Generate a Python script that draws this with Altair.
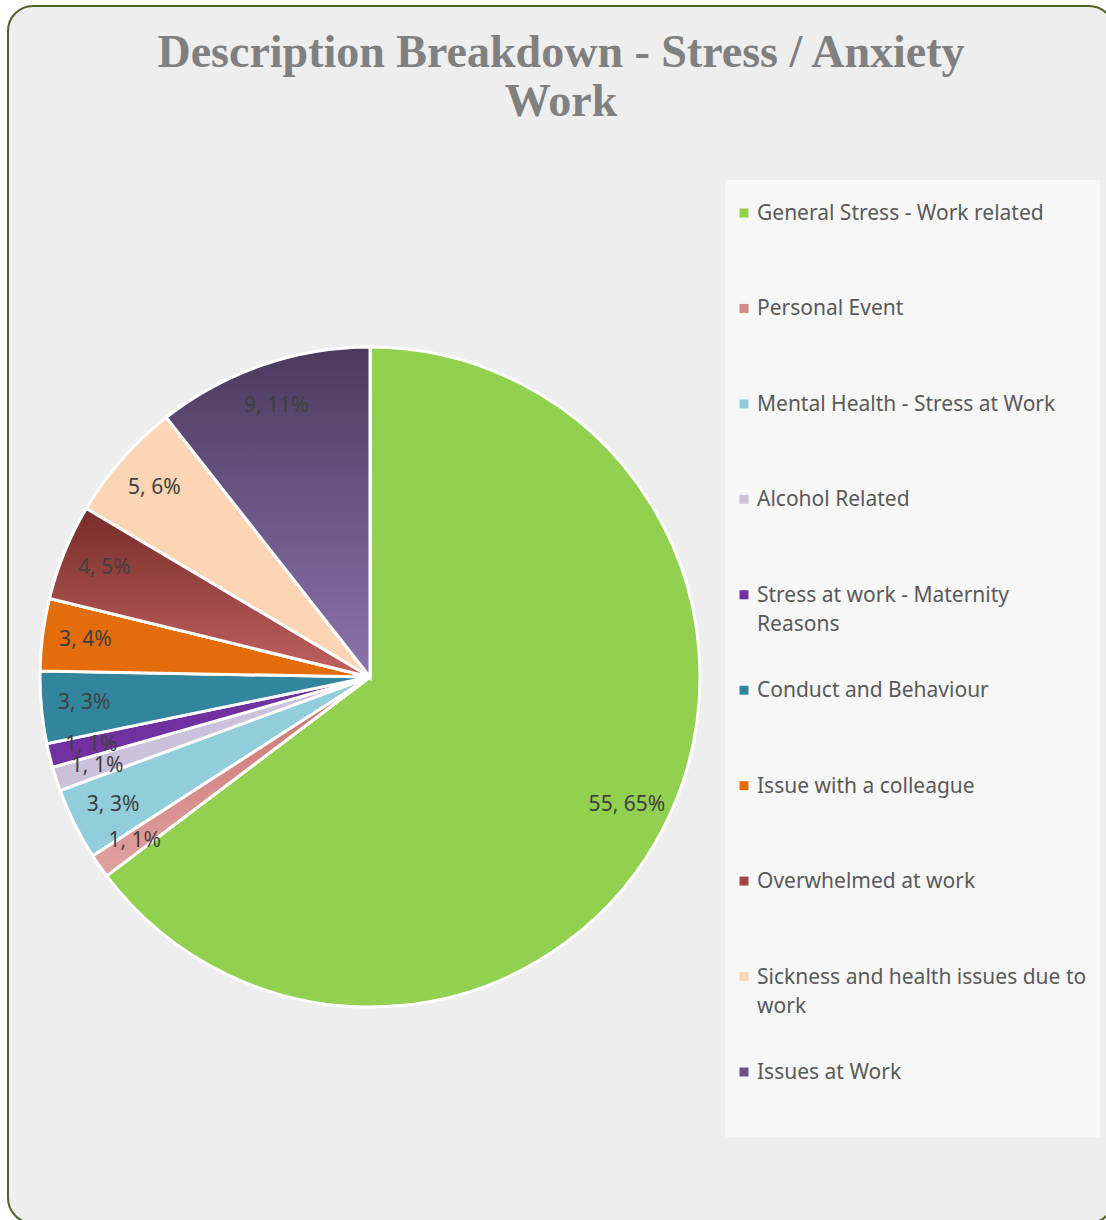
import math
import altair as alt
import pandas as pd

# ---- data ----
categories = [
    "General Stress - Work related",
    "Personal Event",
    "Mental Health - Stress at Work",
    "Alcohol Related",
    "Stress at work - Maternity Reasons",
    "Conduct and Behaviour",
    "Issue with a colleague",
    "Overwhelmed at work",
    "Sickness and health issues due to work",
    "Issues at Work",
]
counts = [55, 1, 3, 1, 1, 3, 3, 4, 5, 9]
percents = [65, 1, 3, 1, 1, 3, 4, 5, 6, 11]
legend_labels = [
    "General Stress - Work related",
    "Personal Event",
    "Mental Health - Stress at Work",
    "Alcohol Related",
    "Stress at work - Maternity\nReasons",
    "Conduct and Behaviour",
    "Issue with a colleague",
    "Overwhelmed at work",
    "Sickness and health issues due to\nwork",
    "Issues at Work",
]
title_text = "Description Breakdown - Stress / Anxiety\nWork"

# ---- styles ----
palette = ["#92d050", "#d48886", "#92cddc", "#ccc1da", "#7030a0",
           "#31859c", "#e46c0a", "#a04543", "#fcd5b5", "#6a5589"]
gradients = {
    "Personal Event": ("#c9706e", "#e0a3a1"),
    "Overwhelmed at work": ("#772c2a", "#c0625f"),
    "Issues at Work": ("#4a3a5e", "#8b74ad"),
}

CX, CY, R = 370, 677, 330
LABEL_R = 287
FONT = "Noto Sans"

df = pd.DataFrame({
    "cat": categories,
    "count": counts,
    "pct": percents,
    "order": list(range(len(categories))),
    "legend": legend_labels,
})
total = sum(counts)

base = alt.Chart(df).transform_window(
    cum="sum(count)", sort=[alt.SortField("order")], frame=[None, 0]
).transform_calculate(
    start="datum.cum - datum.count",
    mid="datum.cum - datum.count / 2",
    label="datum.count + ', ' + datum.pct + '%'",
)

theta_scale = alt.Scale(domain=[0, total], range=[0, 2 * math.pi])
color_scale = alt.Scale(domain=categories, range=palette)

one = pd.DataFrame({"k": [0]})

background = alt.Chart(one).mark_rect(
    fill="#eeeeee", stroke="#4f6228", strokeWidth=2, cornerRadius=25
).encode(x=alt.value(8), x2=alt.value(1114), y=alt.value(6), y2=alt.value(1223))

legend_box = alt.Chart(one).mark_rect(fill="#ffffff", opacity=0.5).encode(
    x=alt.value(725), x2=alt.value(1100), y=alt.value(180), y2=alt.value(1137)
)

title = alt.Chart(pd.DataFrame({"t": [title_text]})).mark_text(
    font="Liberation Serif", fontWeight="bold", fontSize=46, color="#808080",
    align="center", baseline="alphabetic", lineBreak="\n", lineHeight=49,
).encode(text="t:N", x=alt.value(561), y=alt.value(67))

pie = base.mark_arc(outerRadius=R, stroke="white", strokeWidth=3).encode(
    theta=alt.Theta("start:Q", scale=theta_scale, stack=None),
    theta2="cum:Q",
    color=alt.Color("cat:N", scale=color_scale, legend=None),
    x=alt.value(CX), y=alt.value(CY),
)

grad_layers = []
for cat, (c0, c1) in gradients.items():
    g = alt.LinearGradient(
        gradient="linear",
        stops=[alt.GradientStop(color=c0, offset=0), alt.GradientStop(color=c1, offset=1)],
        x1=0, x2=0, y1=0, y2=1,
    )
    grad_layers.append(
        base.transform_filter(alt.datum.cat == cat).mark_arc(
            outerRadius=R, stroke="white", strokeWidth=3, fill=g
        ).encode(
            theta=alt.Theta("start:Q", scale=theta_scale, stack=None),
            theta2="cum:Q",
            x=alt.value(CX), y=alt.value(CY),
        )
    )

labels = base.mark_text(
    radius=LABEL_R, font=FONT, fontSize=21, color="#404040", align="center", baseline="middle"
).encode(
    theta=alt.Theta("mid:Q", scale=theta_scale, stack=None),
    text="label:N",
    x=alt.value(CX), y=alt.value(CY),
)

legend_y = alt.Y("cat:N", sort=categories,
                 scale=alt.Scale(domain=categories, range=[220, 1079], padding=0), axis=None)

legend_sym = alt.Chart(df).mark_square(size=81, opacity=1, yOffset=-7).encode(
    x=alt.value(744), y=legend_y,
    color=alt.Color("cat:N", scale=color_scale, legend=None),
)

legend_txt = alt.Chart(df).mark_text(
    font=FONT, fontSize=21, color="#595959", align="left", baseline="alphabetic",
    lineBreak="\n", lineHeight=29,
).encode(x=alt.value(757), y=legend_y, text="legend:N")

chart = alt.layer(
    background, legend_box, title, pie, *grad_layers, labels, legend_sym, legend_txt
).properties(
    width=1106, height=1220, autosize="none", padding=0, background="#ffffff"
).configure_view(stroke=None)

chart.save("out.html", embed_options={"renderer": "svg", "actions": False})
